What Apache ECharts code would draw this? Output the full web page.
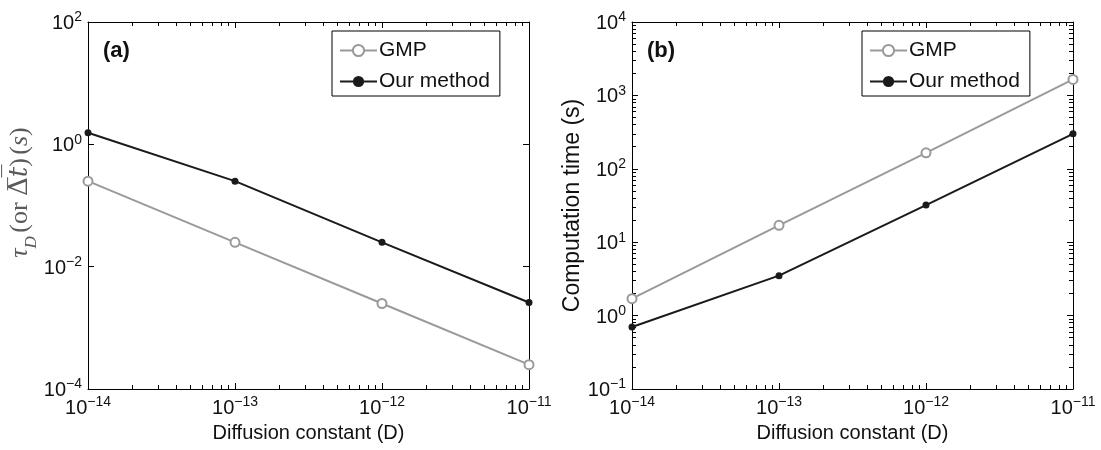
<!DOCTYPE html>
<html>
<head>
<meta charset="utf-8">
<script src="https://cdn.jsdelivr.net/npm/echarts@6/dist/echarts.min.js"></script>
<style>html,body{margin:0;padding:0;background:#fff}#c{width:1101px;height:450px}</style>
</head>
<body>
<div id="c"></div>
<script>
// ---- data ----
const diffusion = [1e-14, 1e-13, 1e-12, 1e-11];
const tauGMP = [0.25, 0.025, 0.0025, 0.00025];
const tauOurs = [1.55, 0.25, 0.025, 0.0026];
const timeGMP = [1.7, 17, 165, 1650];
const timeOurs = [0.7, 3.5, 32, 300];
const seriesNames = ['GMP', 'Our method'];
const panelLabels = ['(a)', '(b)'];
const xAxisTitle = 'Diffusion constant (D)';
const yAxisTitleB = 'Computation time (s)';

const FONT = 'Liberation Sans, Arial, Helvetica, sans-serif';
const GRAY = '#9a9a9a';
const BLACK = '#1a1a1a';

function pow10Label(v) {
  const e = Math.round(Math.log10(v));
  return '{b|10}{s|' + String(e).replace('-', '\u2212') + '}';
}
const labelRich = {
  b: { fontSize: 20, fontFamily: FONT, color: '#111', verticalAlign: 'bottom' },
  s: { fontSize: 14, fontFamily: FONT, color: '#111', verticalAlign: 'bottom', padding: [0, 0, 9, 0] }
};

function xAxes(grid) {
  const base = {
    type: 'log', logBase: 10, gridIndex: grid, min: 1e-14, max: 1e-11, interval: 1,
    axisLine: { show: true, lineStyle: { color: '#000', width: 1 } },
    splitLine: { show: false },
    minorTick: { show: true, splitNumber: 9, length: 4, lineStyle: { color: '#000' } }
  };
  return [
    Object.assign({}, base, {
      position: 'bottom',
      axisTick: { show: true, inside: true, length: 6, lineStyle: { color: '#000' } },
      axisLabel: { show: true, formatter: pow10Label, rich: labelRich, margin: 6 },
      name: xAxisTitle, nameLocation: 'middle', nameGap: 34,
      nameTextStyle: { fontSize: 20, fontFamily: FONT, color: '#111' }
    }),
    Object.assign({}, base, {
      position: 'top',
      axisTick: { show: true, inside: true, length: 6, lineStyle: { color: '#000' } },
      axisLabel: { show: false }
    })
  ];
}

function yAxes(grid, min, max, interval, minor, name, nameGap, nameStyle) {
  const base = {
    type: 'log', logBase: 10, gridIndex: grid, min: min, max: max, interval: interval,
    axisLine: { show: true, lineStyle: { color: '#000', width: 1 } },
    splitLine: { show: false },
    minorTick: { show: minor, splitNumber: 9, length: 4, lineStyle: { color: '#000' } }
  };
  return [
    Object.assign({}, base, {
      position: 'left',
      axisTick: { show: true, inside: true, length: 6, lineStyle: { color: '#000' } },
      axisLabel: { show: true, formatter: pow10Label, rich: labelRich, margin: 6 },
      name: name, nameLocation: 'middle', nameGap: nameGap, nameTextStyle: nameStyle
    }),
    Object.assign({}, base, {
      position: 'right',
      axisTick: { show: true, inside: true, length: 6, lineStyle: { color: '#000' } },
      axisLabel: { show: false }
    })
  ];
}

const serif = 'Liberation Serif, Times New Roman, serif';
const NAMEGRAY = '#5a5a5a';
const yNameA = '{t|\u03c4}{sub|D} {r|(or }{o|\u0394\u0305}{ot|t\u0305}{r|)} {r|(}{t|s}{r|)}';
const yNameAStyle = {
  color: NAMEGRAY,
  padding: [0, 0, 0, 26],
  rich: {
    t: { fontSize: 26, fontFamily: serif, fontStyle: 'italic', color: NAMEGRAY },
    sub: { fontSize: 17, fontFamily: serif, fontStyle: 'italic', color: NAMEGRAY, verticalAlign: 'bottom', padding: [0, 0, -7, 0] },
    r: { fontSize: 26, fontFamily: serif, color: NAMEGRAY },
    o: { fontSize: 26, fontFamily: 'DejaVu Serif, serif', color: NAMEGRAY },
    ot: { fontSize: 26, fontFamily: 'DejaVu Serif, serif', fontStyle: 'italic', color: NAMEGRAY }
  }
};
const yNameBStyle = { fontSize: 23, fontFamily: FONT, color: '#111' };

function lineSeries(name, xi, yi, ys, gmp) {
  return {
    name: name, type: 'line', xAxisIndex: xi, yAxisIndex: yi,
    data: diffusion.map((d, i) => [d, ys[i]]),
    symbol: gmp ? 'emptyCircle' : 'circle',
    symbolSize: gmp ? 9 : 7,
    showSymbol: true,
    lineStyle: { color: gmp ? GRAY : BLACK, width: 2 },
    itemStyle: { color: gmp ? GRAY : BLACK, borderColor: gmp ? GRAY : BLACK, borderWidth: gmp ? 2 : 0 },
    emphasis: { disabled: true },
    z: gmp ? 3 : 4
  };
}

function legend(left) {
  return {
    orient: 'vertical', left: left, top: 31,
    data: seriesNames,
    itemWidth: 37, itemHeight: 14, itemGap: 10,
    padding: [9, 10, 4, 7],
    borderColor: '#000', borderWidth: 1, borderRadius: 0,
    backgroundColor: '#fff',
    selectedMode: false,
    textStyle: { fontSize: 21, fontFamily: FONT, color: '#111', padding: [0, 0, 0, -3] }
  };
}

const chart = echarts.init(document.getElementById('c'), null, { renderer: 'canvas' });
chart.setOption({
  animation: false,
  backgroundColor: '#fff',
  title: [
    { text: panelLabels[0], left: 98, top: 35, textStyle: { fontSize: 22, fontWeight: 'bold', fontFamily: FONT, color: '#111' } },
    { text: panelLabels[1], left: 642, top: 35, textStyle: { fontSize: 22, fontWeight: 'bold', fontFamily: FONT, color: '#111' } }
  ],
  legend: [legend(332), legend(862)],
  grid: [
    { left: 88, top: 22, width: 441, height: 367, containLabel: false },
    { left: 632, top: 22, width: 441, height: 367, containLabel: false }
  ],
  xAxis: xAxes(0).concat(xAxes(1)),
  yAxis: yAxes(0, 1e-4, 1e2, 2, false, yNameA, 55, yNameAStyle)
    .concat(yAxes(1, 1e-1, 1e4, 1, true, yAxisTitleB, 46, yNameBStyle)),
  series: [
    lineSeries(seriesNames[0], 0, 0, tauGMP, true),
    lineSeries(seriesNames[1], 0, 0, tauOurs, false),
    lineSeries(seriesNames[0], 2, 2, timeGMP, true),
    lineSeries(seriesNames[1], 2, 2, timeOurs, false)
  ]
});
</script>
</body>
</html>
